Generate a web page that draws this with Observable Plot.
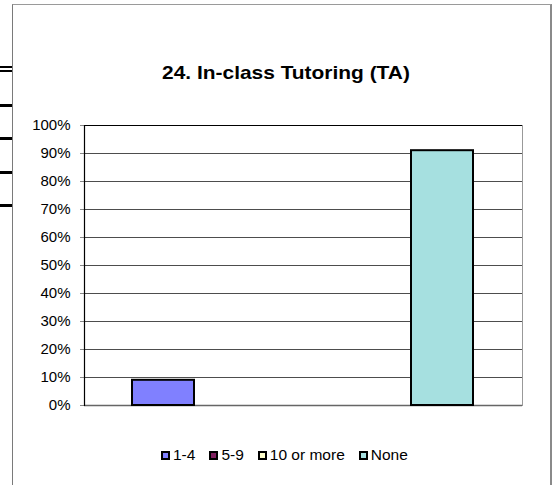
<!DOCTYPE html>
<html>
<head>
<meta charset="utf-8">
<script src="https://cdn.jsdelivr.net/npm/d3@7"></script>
<script src="https://cdn.jsdelivr.net/npm/@observablehq/plot@0.6"></script>
<style>
  html, body { margin: 0; padding: 0; background: #fff; }
  #wrap { position: relative; width: 553px; height: 485px; overflow: hidden; font-family: "Liberation Sans", Arial, sans-serif; }
  #frame { position: absolute; left: 12px; top: 4px; width: 537px; height: 500px; border-left: 1px solid #7a7a7a; border-top: 1px solid #9a9a9a; border-right: 2px solid #8a8a8a; }
  .stub { position: absolute; left: 0; width: 12px; background: #000; }
  #title { position: absolute; left: 0; width: 572px; top: 64px; text-align: center; font-weight: bold; font-size: 18.5px; line-height: 18px; color: #000; transform: scaleX(1.13); transform-origin: 286px 50%; }
  #chart { position: absolute; left: 0; top: 0; }
  #legend { position: absolute; left: 161px; top: 447px; display: flex; align-items: center; column-gap: 14px; font-size: 15.5px; line-height: 16px; color: #000; }
  .item { display: flex; align-items: center; }
  .sw { box-sizing: border-box; width: 9px; height: 9px; border: 2px solid #000; margin-right: 3px; }
</style>
</head>
<body>
<div id="wrap">
  <div class="stub" style="top:66px;height:2px"></div>
  <div class="stub" style="top:70px;height:2px"></div>
  <div class="stub" style="top:104px;height:3px"></div>
  <div class="stub" style="top:137px;height:3px"></div>
  <div class="stub" style="top:171px;height:3px"></div>
  <div class="stub" style="top:204px;height:3px"></div>
  <div id="chart"></div>
  <div id="frame"></div>
  <div id="title"></div>
  <div id="legend"></div>
</div>
<script>
const titleText = "24. In-class Tutoring (TA)";
const categories = ["1-4", "5-9", "10 or more", "None"];
const values = [0.09, 0, 0, 0.91];
const colors = ["#8080ff", "#802060", "#ffffcc", "#a6e0e0"];
const yTicks = [0, 0.1, 0.2, 0.3, 0.4, 0.5, 0.6, 0.7, 0.8, 0.9, 1.0];

const data = categories.map((c, i) => ({cat: c, value: values[i], color: colors[i]}));

document.getElementById("title").textContent = titleText;

const plot = Plot.plot({
  width: 553,
  height: 420,
  marginLeft: 84,
  marginRight: 31,
  marginTop: 125,
  marginBottom: 15,
  style: {background: "transparent", fontFamily: "'Liberation Sans', Arial, sans-serif", fontSize: "15px", color: "#000", overflow: "visible"},
  x: {type: "band", domain: categories, paddingInner: 0.328, paddingOuter: 0.5, axis: null},
  y: {domain: [0, 1], axis: null},
  marks: [
    Plot.ruleY(yTicks, {stroke: "#4d4d4d", strokeWidth: 1}),
    Plot.ruleY([1], {stroke: "#000", strokeWidth: 1}),
    Plot.ruleY([0], {stroke: "#666", strokeWidth: 1.5}),
    Plot.axisY({ticks: yTicks, tickFormat: d3.format(".0%"), tickSize: 4, tickPadding: 10, stroke: "#888", fontSize: 15, label: null}),
    Plot.barY(data.filter(d => d.value > 0), {x: "cat", y: "value", fill: "color", stroke: "#000", strokeWidth: 2}),
    Plot.frame({stroke: "#999", strokeWidth: 1, anchor: "right"}),
    Plot.frame({stroke: "#000", strokeWidth: 1.2, anchor: "left"})
  ]
});
document.getElementById("chart").appendChild(plot);

const legend = document.getElementById("legend");
categories.forEach((c, i) => {
  const item = document.createElement("div");
  item.className = "item";
  const sw = document.createElement("span");
  sw.className = "sw";
  sw.style.background = colors[i];
  const t = document.createElement("span");
  t.textContent = c;
  item.appendChild(sw);
  item.appendChild(t);
  legend.appendChild(item);
});
</script>
</body>
</html>
